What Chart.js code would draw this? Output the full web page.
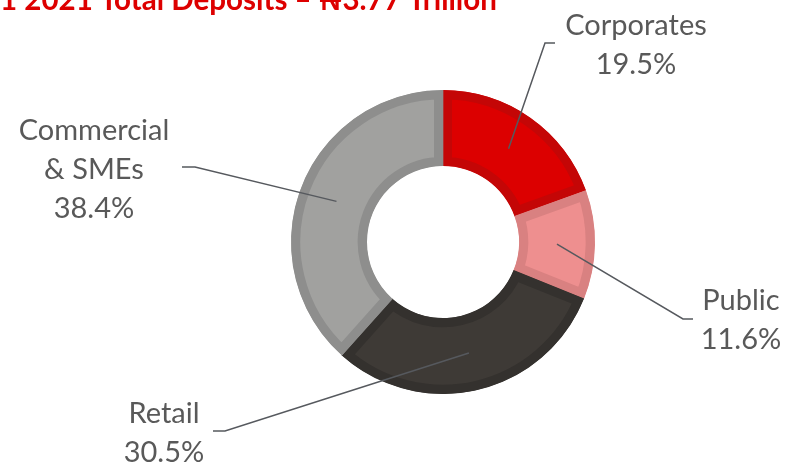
<!DOCTYPE html>
<html>
<head>
<meta charset="utf-8">
<script src="https://cdn.jsdelivr.net/npm/chart.js@4/dist/chart.umd.min.js"></script>
<style>
  html, body { margin: 0; padding: 0; background: #ffffff; overflow: hidden; }
  #wrap { width: 786px; height: 464px; position: relative; }
</style>
</head>
<body>
<div id="wrap"><canvas id="deposits" width="786" height="464"></canvas></div>
<script>
// Deposit mix by customer segment (share of total, %)
const segments = ['Corporates', 'Public', 'Retail', 'Commercial & SMEs'];
const labelLines = [['Corporates'], ['Public'], ['Retail'], ['Commercial', '& SMEs']];
const shares = [19.5, 11.6, 30.5, 38.4];
const titleText = 'Q1 2021 Total Deposits – ₦3.77 Trillion';

// Slice fills and their darker inner rims
const fills = ['#dc0000', '#ee8f8f', '#3e3a36', '#a1a19f'];
const rims  = ['#c40606', '#d98181', '#34312e', '#8e8e8d'];

// Callout layout, offsets from the doughnut centre (px)
const callouts = [
  { elbow: [102, -199], end: [112, -199], textX: 193, firstBaseline: -207 },
  { elbow: [240, 77],   end: [250, 77],   textX: 298, firstBaseline: 68 },
  { elbow: [-218, 189], end: [-230, 189], textX: -279, firstBaseline: 181 },
  { elbow: [-248, -75], end: [-261, -75], textX: -349, firstBaseline: -102 }
];

const labelFont = '29px Lato, "Noto Sans", "DejaVu Sans", sans-serif';
const lineGap = 39;

const calloutPlugin = {
  id: 'callouts',
  afterDraw(chart) {
    const ctx = chart.ctx;
    const meta = chart.getDatasetMeta(0);
    ctx.save();
    meta.data.forEach((arc, i) => {
      const c = callouts[i];
      const cx = arc.x, cy = arc.y;
      const start = arc.getCenterPoint();
      ctx.strokeStyle = '#56595e';
      ctx.lineWidth = 1.5;
      ctx.beginPath();
      ctx.moveTo(start.x, start.y);
      ctx.lineTo(cx + c.elbow[0], cy + c.elbow[1]);
      ctx.lineTo(cx + c.end[0], cy + c.end[1]);
      ctx.stroke();

      ctx.fillStyle = '#595959';
      ctx.font = labelFont;
      ctx.textAlign = 'center';
      ctx.textBaseline = 'alphabetic';
      const lines = labelLines[i].concat([shares[i].toFixed(1) + '%']);
      lines.forEach((t, k) => {
        ctx.fillText(t, cx + c.textX, cy + c.firstBaseline + k * lineGap);
      });
    });
    ctx.restore();
  }
};

// Heading runs off the top-left edge of the canvas
const titlePlugin = {
  id: 'cutTitle',
  afterDraw(chart) {
    const ctx = chart.ctx;
    ctx.save();
    const fam = 'Lato, "Noto Sans", "DejaVu Sans", sans-serif';
    ctx.font = 'bold 100px ' + fam;
    const visible = titleText.slice(1);
    const size = 100 * 497 / ctx.measureText(visible).width;
    ctx.font = 'bold ' + size.toFixed(2) + 'px ' + fam;
    const lead = ctx.measureText(titleText.slice(0, 1)).width;
    ctx.fillStyle = '#dd0000';
    ctx.textAlign = 'left';
    ctx.textBaseline = 'alphabetic';
    ctx.fillText(titleText, -lead, 10);
    ctx.restore();
  }
};

new Chart(document.getElementById('deposits'), {
  type: 'doughnut',
  data: {
    labels: segments,
    datasets: [{
      data: shares,
      backgroundColor: fills,
      borderColor: rims,
      borderWidth: 9,
      borderAlign: 'inner',
      hoverOffset: 0
    }]
  },
  options: {
    responsive: false,
    animation: false,
    devicePixelRatio: 1,
    cutout: '50%',
    rotation: 0,
    layout: { padding: { left: 291, right: 191, top: 90, bottom: 70 } },
    events: [],
    plugins: {
      legend: { display: false },
      tooltip: { enabled: false },
      title: { display: false }
    }
  },
  plugins: [calloutPlugin, titlePlugin]
});
</script>
</body>
</html>
